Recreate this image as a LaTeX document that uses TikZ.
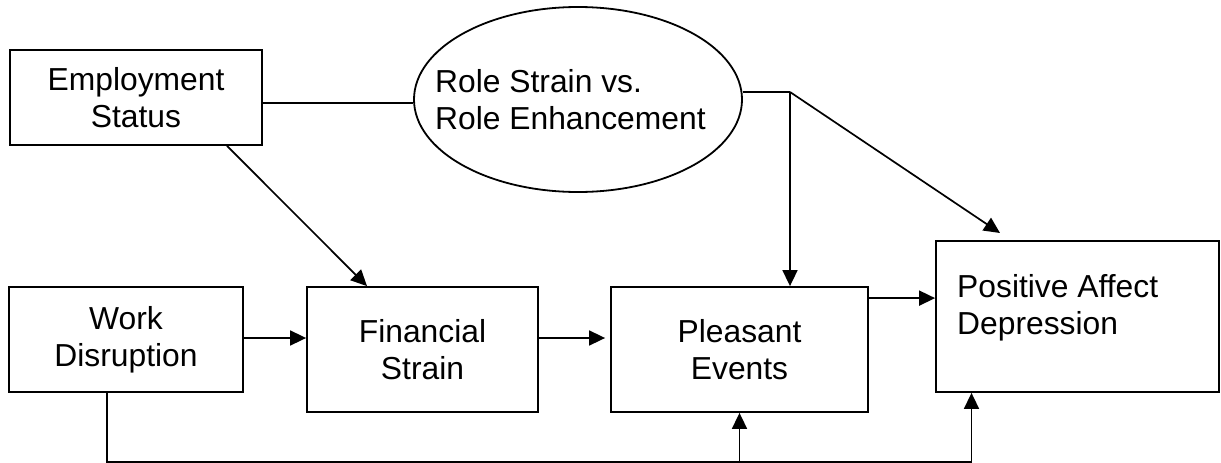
\documentclass[tikz,border=0pt]{standalone}
\usepackage{fontspec}
\setmainfont{Liberation Sans}
\usetikzlibrary{arrows.meta,calc,shapes.geometric}
\begin{document}
\begin{tikzpicture}[x=1pt,y=-1pt,
  box/.style={draw, line width=1.8pt, inner sep=0pt, align=center, font=\fontsize{31.8pt}{37pt}\selectfont},
  lbl/.style={inner sep=0pt, align=left, anchor=north west, font=\fontsize{31.8pt}{37pt}\selectfont},
  conn/.style={line width=1.7pt},
  arr/.style={conn, -{Triangle[length=16pt,width=15pt]}}]
\useasboundingbox (0,0) rectangle (1221,463);
% boxes
\node[box, minimum width=252pt, minimum height=95pt] (es) at (136,97.5) {Employment\\Status};
\node[draw, ellipse, line width=1.8pt, inner sep=0pt, minimum width=328pt, minimum height=185pt] (rse) at (578,99.5) {};
\node[lbl] (rset) at (435,69.3) {Role Strain vs.\\Role Enhancement};
\node[box, minimum width=234pt, minimum height=105pt] (wd) at (126,339.5) {Work\\Disruption};
\node[box, minimum width=231pt, minimum height=125pt] (fs) at (422.5,349.5) {Financial\\Strain};
\node[box, minimum width=257pt, minimum height=125pt] (pe) at (739.5,349.5) {Pleasant\\Events};
\node[box, minimum width=283pt, minimum height=151pt] (pa) at (1077.5,316.5) {};
\node[lbl] (pat) at (957,274) {Positive Affect\\Depression};
% coordinates
\coordinate (j) at (790,92);
\coordinate (pain) at (1000,233);
\coordinate (r1) at ([yshift=1.5pt]wd.east);
\coordinate (r2) at ([yshift=-12pt]pe.north east);
\coordinate (wdo) at ([xshift=-19pt]wd.south);
\coordinate (pai) at ([xshift=-106pt]pa.south);
\coordinate (bot) at (0,461.8);
% connectors
\draw[conn] ([yshift=-5.5pt]es.east) -- ([yshift=-3.5pt]rse.west);
\draw[conn] ([yshift=7.5pt]rse.east) -- (j);
\draw[arr] (j) -- (j |- pe.north);
\draw[arr] (j) -- (pain);
\draw[arr] ([xshift=91pt]es.south) -- ([xshift=-55.5pt]fs.north);
\draw[arr] (r1) -- (r1 -| fs.west);
\draw[arr, shorten >=5pt] (r1 -| fs.east) -- (r1 -| pe.west);
\draw[arr] (r2) -- (r2 -| pa.west);
\draw[arr] (wdo) |- (bot -| pai) -- (pai);
\draw[arr] (bot -| pe.south) -- (pe.south);
\end{tikzpicture}
\end{document}
